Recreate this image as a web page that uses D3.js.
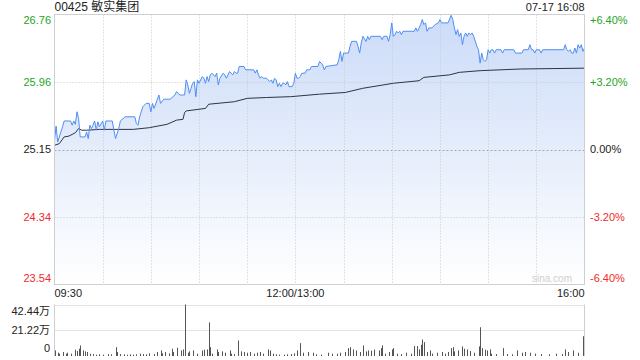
<!DOCTYPE html>
<html>
<head>
<meta charset="utf-8">
<script src="https://cdn.jsdelivr.net/npm/d3@7"></script>
<style>
  body { margin: 0; background: #fff; }
  svg { display: block; font-family: Arial, "Liberation Sans", "Noto Sans CJK SC", sans-serif; }
</style>
</head>
<body>
<script>
// title bits
var stockTitle = "00425 敏实集团",
    stamp = "07-17 16:08";

// price axis (previous close in the middle)
var prevClose = 25.15;
var priceTicks = [26.76, 25.96, 25.15, 24.34, 23.54];
var pctTicks = ["+6.40%", "+3.20%", "0.00%", "-3.20%", "-6.40%"];
var timeLabels = ["09:30", "12:00/13:00", "16:00"];
var volTicks = [42.44, 21.22, 0];

// minute since 09:30 (lunch removed), price
var priceSeries = [
  [0,25.26],[1,25.43],[2,25.24],[5,25.42],[6,25.49],[10,25.49],[11,25.44],[12,25.49],[13,25.45],
  [14,25.60],[15,25.52],[16,25.30],[19,25.30],[20,25.36],[21,25.28],[22,25.44],[23,25.40],[24,25.44],
  [25,25.49],[26,25.38],[27,25.48],[28,25.42],[30,25.49],[31,25.38],[32,25.49],[36,25.49],[37,25.38],
  [38,25.28],[40,25.40],[41,25.49],[44,25.54],[50,25.54],[51,25.46],[52,25.44],[53,25.54],[55,25.66],
  [57,25.70],[59,25.70],[60,25.60],[61,25.70],[62,25.64],[65,25.80],[66,25.70],[68,25.75],[72,25.75],
  [75,25.80],[76,25.84],[77,25.82],[78,25.80],[81,25.80],[82,25.98],[83,25.92],[84,25.82],[85,25.88],
  [86,25.94],[87,25.96],[88,25.78],[89,25.98],[90,25.94],[92,26.02],[93,26.00],[94,25.94],[95,26.02],
  [96,25.96],[97,26.04],[98,26.06],[100,26.02],[101,26.06],[102,25.92],[103,26.00],[105,26.06],[106,26.04],
  [107,26.00],[109,26.08],[111,26.04],[112,26.08],[113,26.06],[114,26.06],[115,26.14],[118,26.14],[119,26.10],
  [124,26.10],[125,26.06],[126,26.10],[127,26.04],[128,26.00],[129,26.02],[130,26.00],[132,26.00],[133,25.98],
  [134,25.96],[135,25.98],[136,25.94],[137,26.00],[138,25.98],[139,25.90],[140,25.94],[141,25.90],[142,25.94],
  [143,25.94],[144,25.92],[145,25.96],[146,25.90],[148,25.90],[149,25.94],[150,26.06],[151,26.00],[152,26.00],
  [153,26.02],[154,26.06],[156,26.06],[157,26.10],[159,26.10],[160,26.14],[164,26.14],[165,26.20],[166,26.18],
  [167,26.16],[168,26.10],[169,26.14],[176,26.16],[177,26.22],[178,26.32],[179,26.20],[180,26.30],[183,26.30],
  [184,26.38],[185,26.44],[188,26.44],[189,26.38],[190,26.30],[191,26.42],[192,26.50],[194,26.44],[195,26.50],
  [196,26.46],[197,26.50],[203,26.50],[204,26.46],[205,26.50],[207,26.50],[208,26.44],[209,26.52],[210,26.66],
  [211,26.50],[212,26.52],[213,26.56],[214,26.54],[215,26.56],[216,26.52],[217,26.56],[224,26.56],[225,26.60],
  [226,26.56],[228,26.64],[229,26.70],[230,26.64],[231,26.66],[232,26.56],[233,26.60],[235,26.60],[237,26.64],
  [239,26.66],[240,26.70],[241,26.66],[245,26.66],[247,26.75],[248,26.70],[249,26.60],[250,26.52],[251,26.58],
  [252,26.50],[253,26.54],[254,26.40],[255,26.50],[256,26.54],[257,26.50],[258,26.54],[259,26.52],[260,26.54],
  [261,26.50],[263,26.38],[264,26.34],[265,26.18],[266,26.30],[267,26.22],[268,26.20],[269,26.22],[270,26.34],
  [271,26.30],[272,26.34],[273,26.34],[274,26.30],[275,26.34],[278,26.34],[279,26.30],[280,26.34],[286,26.34],
  [287,26.30],[291,26.30],[292,26.34],[295,26.34],[296,26.40],[297,26.34],[298,26.34],[299,26.30],[300,26.34],
  [302,26.34],[303,26.30],[304,26.34],[317,26.34],[318,26.40],[319,26.34],[320,26.32],[321,26.34],[322,26.30],
  [323,26.30],[324,26.36],[325,26.30],[326,26.40],[327,26.36],[328,26.40],[329,26.32],[330,26.36]
];

// average price
var avgSeries = [
  [0,25.20],[3,25.22],[6,25.30],[9,25.31],[11,25.33],[13,25.35],[15,25.40],[17,25.38],[20,25.38],
  [28,25.39],[49,25.39],[59,25.41],[70,25.45],[76,25.50],[80,25.51],[81,25.59],[82,25.61],[94,25.64],
  [96,25.69],[112,25.72],[120,25.76],[132,25.77],[147,25.78],[165,25.81],[181,25.83],[192,25.88],
  [211,25.94],[227,25.97],[230,26.01],[246,26.04],[252,26.07],[265,26.09],[290,26.11],[330,26.12]
];

// volume, 万 shares
var volSeries = [
  [0,4.6],[2,2.7],[3,1.9],[5,3.3],[7,1.9],[8,2.7],[10,1.9],[13,5.2],[14,4.1],[15,6.0],[16,8.7],[18,4.6],
  [19,3.8],[20,3.3],[22,1.9],[24,1.6],[26,1.1],[28,1.4],[30,1.1],[33,1.6],[35,1.4],[38,7.3],[39,3.3],
  [41,1.6],[43,1.4],[45,1.1],[47,1.4],[49,1.1],[51,1.4],[53,1.9],[55,1.6],[57,1.4],[59,2.2],[62,1.6],
  [64,3.3],[66,4.6],[67,2.2],[69,3.3],[71,2.2],[73,6.0],[74,3.3],[76,6.8],[79,4.6],[80,5.4],[81,42.44],
  [83,2.7],[84,3.8],[86,4.6],[89,1.9],[92,4.6],[93,5.2],[95,5.4],[96,27.7],[97,7.3],[98,1.9],[101,5.4],
  [102,3.3],[104,3.8],[106,2.7],[109,4.6],[110,1.9],[112,1.6],[114,12.8],[116,3.8],[118,3.3],[120,2.7],
  [122,3.3],[124,1.9],[126,2.7],[128,3.3],[130,1.9],[133,5.4],[134,4.6],[136,1.9],[138,1.4],[140,1.1],
  [143,1.1],[145,1.4],[147,1.6],[149,2.2],[151,4.6],[153,10.6],[155,2.7],[158,3.3],[161,2.7],[163,1.4],
  [166,1.1],[170,2.7],[173,1.9],[176,1.9],[178,2.7],[181,3.3],[183,6.5],[184,7.3],[186,5.4],[188,4.6],
  [190,3.3],[192,8.7],[194,3.8],[195,4.6],[197,4.4],[199,5.2],[202,4.6],[203,6.5],[204,8.7],[206,1.9],
  [208,3.3],[210,5.4],[211,6.5],[213,1.9],[216,1.6],[219,2.7],[222,1.9],[224,8.2],[226,8.2],[227,5.4],
  [228,9.2],[229,13.6],[230,11.4],[232,3.3],[234,4.6],[235,1.9],[238,2.7],[241,3.3],[243,1.9],[245,3.3],
  [247,6.5],[248,7.3],[249,3.8],[251,4.6],[254,7.9],[255,6.0],[257,5.4],[259,4.1],[261,2.7],[264,7.9],
  [265,23.7],[266,6.5],[268,5.2],[269,4.6],[271,5.4],[272,1.9],[275,1.6],[279,6.5],[282,1.6],[285,1.4],
  [288,4.6],[291,2.7],[293,3.3],[296,2.7],[299,1.9],[303,1.6],[308,1.4],[312,1.9],[316,1.6],[318,5.4],
  [320,3.3],[323,4.6],[326,2.7],[329,16.3]
];

var width = 640, height = 360;
var plotLeft = 54.5, plotRight = 584.5,
    plotTop = 14.5, plotBottom = 284.5,
    volTop = 304.5, volBottom = 356;

var green = "#1ea51e", red = "#f02a2a";

var svg = d3.select("body").append("svg")
    .attr("width", width)
    .attr("height", height);

// scales
var x = d3.scaleLinear().domain([0, 330]).range([plotLeft, plotRight]);
var y = d3.scaleLinear().domain([23.54, 26.76]).range([plotBottom, plotTop]);
var yv = d3.scaleLinear().domain([0, 42.44]).range([volBottom, volTop]);

// gradient for area under price
var grad = svg.append("defs").append("linearGradient")
    .attr("id", "fillGrad")
    .attr("gradientUnits", "userSpaceOnUse")
    .attr("x1", 0).attr("y1", plotTop).attr("x2", 0).attr("y2", plotBottom);
grad.append("stop").attr("offset", "0%").attr("stop-color", "#cbdbf8");
grad.append("stop").attr("offset", "100%").attr("stop-color", "#ffffff");

// area under the price line
svg.append("path")
    .datum(priceSeries)
    .attr("fill", "url(#fillGrad)")
    .attr("d", d3.area()
        .x(function(d) { return x(d[0]); })
        .y0(plotBottom)
        .y1(function(d) { return y(d[1]); }));

// vertical grid every 30 minutes
var gridMins = d3.range(30, 330, 30);
svg.append("g").selectAll("line")
    .data(gridMins)
    .enter().append("line")
    .attr("x1", function(d) { return Math.round(x(d)) + 0.5; })
    .attr("x2", function(d) { return Math.round(x(d)) + 0.5; })
    .attr("y1", plotTop).attr("y2", plotBottom)
    .attr("stroke", "#c8c8c8")
    .attr("stroke-dasharray", "1,2");

// horizontal grid
svg.append("g").selectAll("line")
    .data(priceTicks.slice(1, 4))
    .enter().append("line")
    .attr("x1", plotLeft).attr("x2", plotRight)
    .attr("y1", function(d) { return Math.round(y(d)) + 0.5; })
    .attr("y2", function(d) { return Math.round(y(d)) + 0.5; })
    .attr("stroke", function(d) { return d == prevClose ? "#aaa" : "#c8c8c8"; })
    .attr("stroke-dasharray", function(d) { return d == prevClose ? "2,2" : "1,2"; });

// "sina.com" mark
svg.append("text")
    .attr("x", 572).attr("y", 282)
    .attr("text-anchor", "end")
    .attr("font-size", "10px")
    .attr("fill", "#cfcfcf")
    .text("sina.com");

svg.append("path")
    .datum(avgSeries)
    .attr("fill", "none")
    .attr("stroke", "#2e3442")
    .attr("stroke-width", 1)
    .attr("d", d3.line()
        .x(function(d) { return x(d[0]); })
        .y(function(d) { return y(d[1]); }));

svg.append("path")
    .datum(priceSeries)
    .attr("fill", "none")
    .attr("stroke", "#4f8ef5")
    .attr("stroke-width", 1)
    .attr("d", d3.line()
        .x(function(d) { return x(d[0]); })
        .y(function(d) { return y(d[1]); }));

// frame
svg.append("rect")
    .attr("x", plotLeft).attr("y", plotTop)
    .attr("width", plotRight - plotLeft).attr("height", plotBottom - plotTop)
    .attr("fill", "none")
    .attr("stroke", "#cfcfcf");

// left price labels
function labelY(v) {
    return Math.min(Math.max(y(v), plotTop + 6), plotBottom - 6);
}
svg.append("g").selectAll("text")
    .data(priceTicks)
    .enter().append("text")
    .attr("x", 51)
    .attr("y", function(d) { return labelY(d); })
    .attr("dy", "0.36em")
    .attr("text-anchor", "end")
    .attr("font-size", "11px")
    .attr("fill", function(d) { return d > prevClose ? green : (d < prevClose ? red : "#222"); })
    .text(function(d) { return d.toFixed(2); });

// right percent labels
svg.append("g").selectAll("text")
    .data(pctTicks)
    .enter().append("text")
    .attr("x", 590)
    .attr("y", function(d, i) { return labelY(priceTicks[i]); })
    .attr("dy", "0.36em")
    .attr("font-size", "11px")
    .attr("fill", function(d) { return d[0] == "+" ? green : (d[0] == "-" ? red : "#222"); })
    .text(function(d) { return d; });

// time labels
svg.append("text").attr("x", plotLeft).attr("y", 297).attr("font-size", "11px").attr("fill", "#222")
    .text(timeLabels[0]);
svg.append("text").attr("x", x(150)).attr("y", 297).attr("font-size", "11px").attr("fill", "#222")
    .attr("text-anchor", "middle").text(timeLabels[1]);
svg.append("text").attr("x", plotRight).attr("y", 297).attr("font-size", "11px").attr("fill", "#222")
    .attr("text-anchor", "end").text(timeLabels[2]);

// header
svg.append("text").attr("x", plotLeft).attr("y", 11).attr("font-size", "12px").attr("fill", "#222")
    .text(stockTitle);
svg.append("text").attr("x", plotRight).attr("y", 11).attr("font-size", "11px").attr("fill", "#222")
    .attr("text-anchor", "end").text(stamp);

// volume panel
svg.append("g").selectAll("line")
    .data(volTicks.slice(0, 2))
    .enter().append("line")
    .attr("x1", plotLeft).attr("x2", plotRight)
    .attr("y1", function(d) { return Math.round(yv(d)) + 0.5; })
    .attr("y2", function(d) { return Math.round(yv(d)) + 0.5; })
    .attr("stroke", "#c8c8c8")
    .attr("stroke-dasharray", "1,1");

svg.append("line").attr("x1", plotLeft).attr("x2", plotLeft).attr("y1", volTop).attr("y2", volBottom)
    .attr("stroke", "#cfcfcf");
svg.append("line").attr("x1", plotRight).attr("x2", plotRight).attr("y1", volTop).attr("y2", volBottom)
    .attr("stroke", "#cfcfcf");

svg.append("g").selectAll("rect")
    .data(volSeries)
    .enter().append("rect")
    .attr("x", function(d) { return Math.round(x(d[0])); })
    .attr("width", 1)
    .attr("y", function(d) { return yv(d[1]); })
    .attr("height", function(d) { return volBottom - yv(d[1]); })
    .attr("fill", "#555");

svg.append("g").selectAll("text")
    .data(volTicks)
    .enter().append("text")
    .attr("x", 50)
    .attr("y", function(d) { return Math.min(Math.max(yv(d), volTop + 7), volBottom - 8); })
    .attr("dy", "0.36em")
    .attr("text-anchor", "end")
    .attr("font-size", "11px")
    .attr("fill", "#222")
    .text(function(d) { return d == 0 ? "0" : d.toFixed(2) + "万"; });
</script>
</body>
</html>
